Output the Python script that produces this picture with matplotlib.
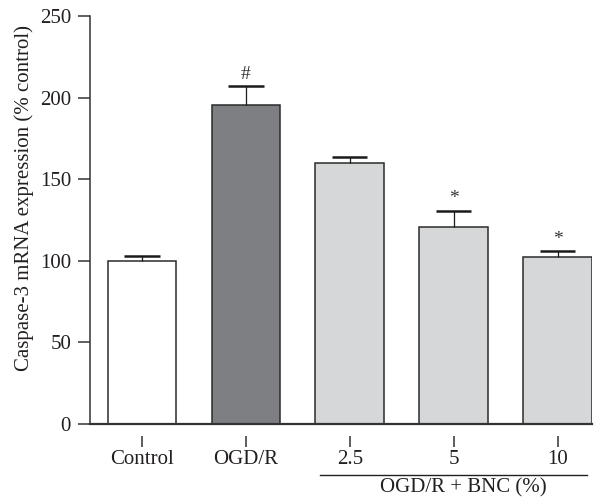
import matplotlib.pyplot as plt
import numpy as np

# datos
grupos = ['Control', 'OGD/R', '2.5', '5', '10']
medias = [100, 195.5, 160, 120.7, 102.3]
errores = [3, 11.5, 3.5, 10, 3.5]
marcas = ['', '#', '', '*', '*']
colores = ['#ffffff', '#7e7f83', '#d6d7d9', '#d6d7d9', '#d6d7d9']

plt.rcParams['font.family'] = ['Liberation Serif', 'DejaVu Serif']
tinta = '#231f20'

fig = plt.figure(figsize=(6.04, 4.98), dpi=100)
ax = fig.add_axes([0.149, 0.1486, 0.831, 0.8193])

x = np.arange(len(grupos))
ax.bar(x, medias, width=0.66, color=colores, edgecolor='#2b2b2b', linewidth=1.1, zorder=2)

# barras de error solo hacia arriba
topes = np.array(medias) + np.array(errores)
ax.vlines(x, medias, topes, color='#1a1a1a', linewidth=0.9, zorder=3)
ax.hlines(topes, x - 0.17, x + 0.17, color='#1a1a1a', linewidth=1.8, zorder=3)

for xi, t, s in zip(x, topes, marcas):
    if s:
        ax.text(xi, t + 2, s, ha='center', va='bottom', fontsize=14, color='#333333')

ax.set_xlim(-0.5, 4.33)
ax.set_ylim(0, 250)
ax.set_yticks([0, 50, 100, 150, 200, 250])
ax.set_xticks(x)
ax.set_xticklabels(grupos)

for lado in ['top', 'right']:
    ax.spines[lado].set_visible(False)
ax.spines['left'].set_linewidth(1.1)
ax.spines['left'].set_color('#333333')
# eje x separado de las marcas
ax.spines['bottom'].set_position(('outward', 8.6))
ax.spines['bottom'].set_visible(False)
ax.axhline(0, color='#333333', linewidth=1.6, zorder=4, clip_on=False)

ax.tick_params(axis='y', direction='out', length=8.6, width=1.1, color='#333333',
               labelsize=15, labelcolor=tinta, pad=5)
ax.tick_params(axis='x', direction='out', length=8, width=1.1, color='#333333',
               labelsize=15, labelcolor=tinta, pad=2)

ax.set_ylabel('Caspase-3 mRNA expression (% control)', fontsize=15, color=tinta)
ax.yaxis.set_label_coords(-0.112, 0.554)

# linea y texto del grupo BNC
ax.plot([1.71, 4.28], [-0.125, -0.125], transform=ax.get_xaxis_transform(),
        color=tinta, linewidth=1.0, clip_on=False)
ax.text(3.09, -0.157, 'OGD/R + BNC (%)', transform=ax.get_xaxis_transform(),
        ha='center', va='center', fontsize=15, color=tinta)

fig.savefig('out.png', dpi=100)
